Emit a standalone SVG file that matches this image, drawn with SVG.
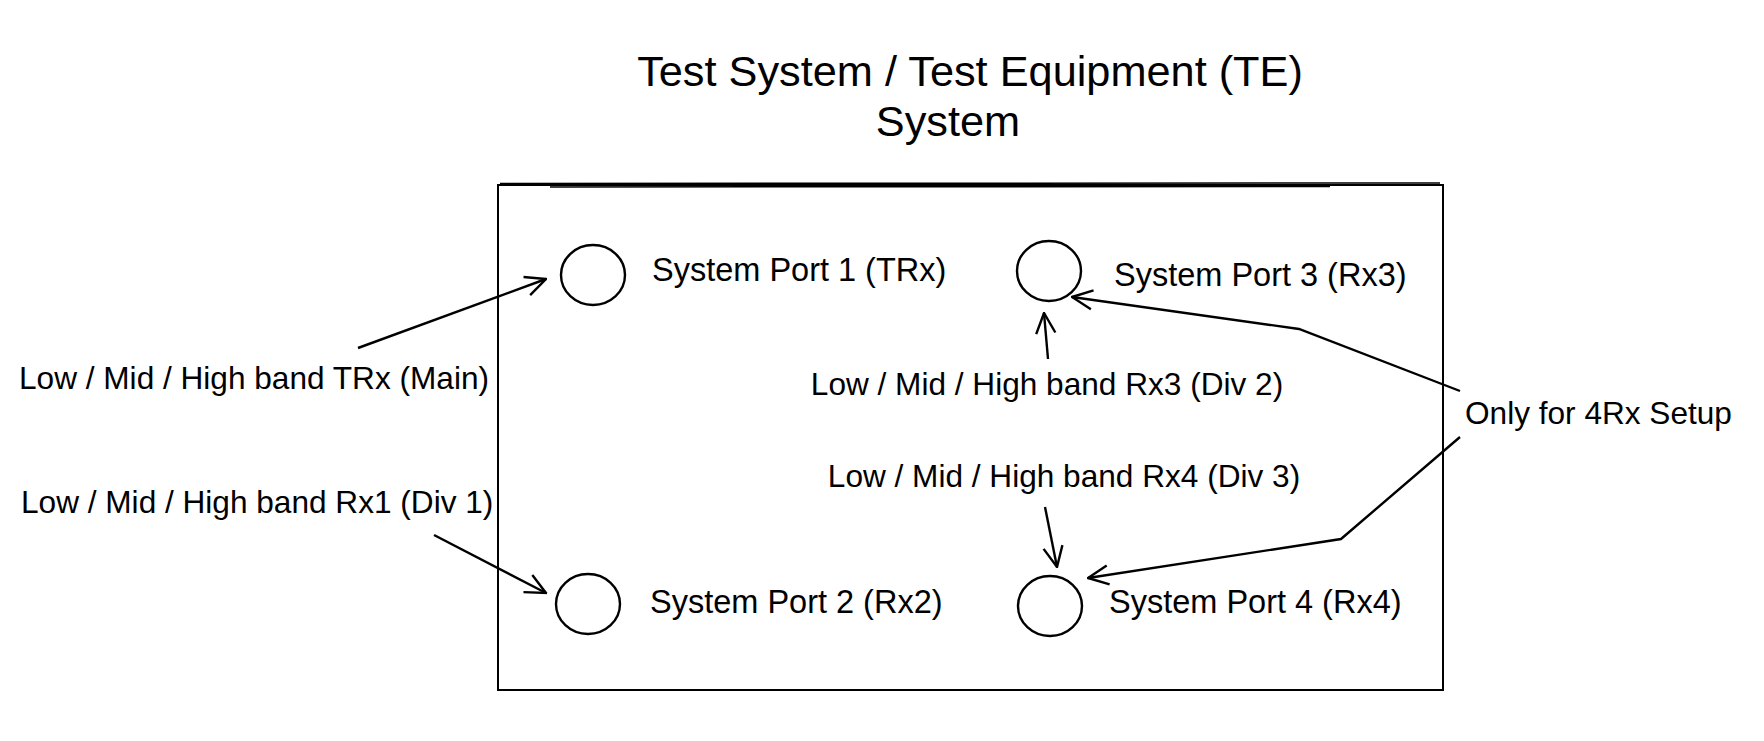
<svg xmlns="http://www.w3.org/2000/svg" width="1764" height="741" viewBox="0 0 1764 741">
<defs>
<style>
text{font-family:"Liberation Sans",Arial,sans-serif;fill:#000}
.lbl{font-size:31.6px}
.plbl{font-size:32.5px}
.title{font-size:43.3px;text-anchor:middle}
.port{fill:none;stroke:#000;stroke-width:2.4}
.conn{fill:none;stroke:#000;stroke-width:2.4;marker-end:url(#arr)}
</style>
<marker id="arr" viewBox="0 0 20 20" refX="19" refY="10" markerWidth="24" markerHeight="24" markerUnits="userSpaceOnUse" orient="auto">
<path d="M2,2 L19,10 L2,18" fill="none" stroke="#000" stroke-width="2"/>
</marker>
</defs>
<rect width="1764" height="741" fill="#fff"/>
<g id="title">
<text class="title" x="970" y="86">Test System / Test Equipment (TE)</text>
<text class="title" x="948" y="136">System</text>
</g>
<g id="system-box">
<rect x="498" y="185" width="945" height="505" fill="none" stroke="#000" stroke-width="2"/>
<path d="M500,183.5 L1440,183 M550,187 L1330,186.5" fill="none" stroke="#000" stroke-width="1.5"/>
</g>
<g id="port1">
<ellipse class="port" cx="593" cy="275" rx="32" ry="30"/>
<text class="plbl" x="652" y="281">System Port 1 (TRx)</text>
</g>
<g id="port3">
<ellipse class="port" cx="1049" cy="271" rx="32" ry="30"/>
<text class="plbl" x="1114" y="286">System Port 3 (Rx3)</text>
</g>
<g id="port2">
<ellipse class="port" cx="588" cy="604" rx="32" ry="30"/>
<text class="plbl" x="650" y="613">System Port 2 (Rx2)</text>
</g>
<g id="port4">
<ellipse class="port" cx="1050" cy="606" rx="32" ry="30"/>
<text class="plbl" x="1109" y="613">System Port 4 (Rx4)</text>
</g>
<g id="label-trx-main">
<text class="lbl" x="19" y="389">Low / Mid / High band TRx (Main)</text>
</g>
<g id="label-rx1">
<text class="lbl" x="21" y="513">Low / Mid / High band Rx1 (Div 1)</text>
</g>
<g id="label-rx3">
<text class="lbl" x="1047" y="395" text-anchor="middle">Low / Mid / High band Rx3 (Div 2)</text>
</g>
<g id="label-rx4">
<text class="lbl" x="1064" y="487" text-anchor="middle">Low / Mid / High band Rx4 (Div 3)</text>
</g>
<g id="label-4rx">
<text class="lbl" x="1465" y="424">Only for 4Rx Setup</text>
</g>
<g id="connectors">
<path class="conn" d="M358,348 L546,279"/>
<path class="conn" d="M434,535 L546,593"/>
<path class="conn" d="M1048,359 L1044,313"/>
<path class="conn" d="M1045,507 L1057,567"/>
<path class="conn" d="M1460,391 L1299,329 L1072,297"/>
<path class="conn" d="M1460,437 L1341,539 L1088,578"/>
</g>
</svg>
